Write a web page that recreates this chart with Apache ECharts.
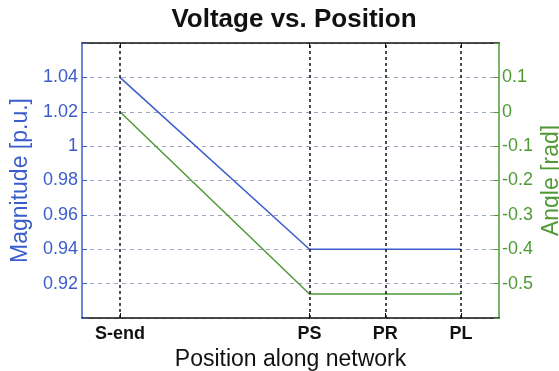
<!DOCTYPE html>
<html><head><meta charset="utf-8">
<script src="https://cdn.jsdelivr.net/npm/echarts@6/dist/echarts.min.js"></script>
<style>html,body{margin:0;padding:0;background:#fff}#c{width:559px;height:371px}</style>
</head><body><div id="c"></div>
<script>
const categories = ['S-end', 'PS', 'PR', 'PL'];
const positions = [1, 3.5, 4.5, 5.5];
const magnitude = [1.04, 0.94, 0.94, 0.94];
const angle = [0, -0.53, -0.53, -0.53];

const BLUE = '#3a5ccc';
const GREEN = '#4f9a35';
const FONT = 'Liberation Sans, Arial, sans-serif';

const chart = echarts.init(document.getElementById('c'), null, {renderer: 'canvas'});
const labelFor = v => { const i = positions.indexOf(v); return i >= 0 ? categories[i] : ''; };

chart.setOption({
  animation: false,
  backgroundColor: '#fff',
  title: {
    text: 'Voltage vs. Position', left: 289, top: 2, textAlign: 'center',
    textStyle: {fontFamily: FONT, fontSize: 26, fontWeight: 'bold', color: '#111'}
  },
  grid: {left: 82, right: 60, top: 43, bottom: 53, containLabel: false, outerBoundsMode: 'none'},
  xAxis: [{
    type: 'value', min: 0.5, max: 6, position: 'bottom',
    name: 'Position along network', nameLocation: 'middle', nameGap: 24,
    nameTextStyle: {fontFamily: FONT, fontSize: 23, color: '#111'},
    axisLine: {onZero: false, lineStyle: {color: '#111', width: 1.5}},
    axisTick: {inside: true, length: 5, customValues: positions, lineStyle: {color: '#111'}},
    axisLabel: {customValues: positions, formatter: labelFor, margin: 7,
      fontFamily: FONT, fontSize: 18, fontWeight: 'bold', color: '#111'},
    splitLine: {show: false}
  }, {
    type: 'value', min: 0.5, max: 6, position: 'top',
    axisLine: {onZero: false, lineStyle: {color: '#111', width: 1.5}},
    axisTick: {inside: true, length: 5, customValues: positions, lineStyle: {color: '#111'}},
    axisLabel: {show: false},
    splitLine: {show: false}
  }],
  yAxis: [{
    type: 'value', min: 0.9, max: 1.06, interval: 0.02, position: 'left',
    name: 'Magnitude [p.u.]', nameLocation: 'middle', nameGap: 48,
    nameTextStyle: {fontFamily: FONT, fontSize: 23, color: BLUE},
    axisLine: {show: true, onZero: false, lineStyle: {color: BLUE, width: 1.5}},
    axisTick: {show: true, inside: true, length: 5, lineStyle: {color: BLUE}},
    axisLabel: {margin: 4, fontFamily: FONT, fontSize: 18, color: BLUE,
      formatter: v => (v < 0.91 || v > 1.05) ? '' : String(+v.toFixed(2))},
    splitLine: {show: true, lineStyle: {color: '#9ea3bd', type: [4, 4], width: 1}}
  }, {
    type: 'value', min: -0.6, max: 0.2, interval: 0.1, position: 'right',
    name: 'Angle [rad]', nameLocation: 'middle', nameGap: 41, nameRotate: 90,
    nameMoveOverlap: false,
    nameTextStyle: {fontFamily: FONT, fontSize: 23, color: GREEN},
    axisLine: {show: true, onZero: false, lineStyle: {color: GREEN, width: 1.5}},
    axisTick: {show: true, inside: true, length: 5, lineStyle: {color: GREEN}},
    axisLabel: {margin: 3, fontFamily: FONT, fontSize: 18, color: GREEN,
      formatter: v => (v < -0.55 || v > 0.15) ? '' : String(+v.toFixed(1))},
    splitLine: {show: false}
  }],
  series: [{
    type: 'line', name: 'Magnitude', xAxisIndex: 0, yAxisIndex: 0,
    data: positions.map((p, i) => [p, magnitude[i]]),
    symbol: 'none', lineStyle: {color: BLUE, width: 1.5}, z: 3,
    markLine: {
      silent: true, symbol: 'none', label: {show: false},
      lineStyle: {color: '#111', type: [3, 3], width: 1.5},
      data: positions.map(p => ({xAxis: p}))
    }
  }, {
    type: 'line', name: 'Angle', xAxisIndex: 0, yAxisIndex: 1,
    data: positions.map((p, i) => [p, angle[i]]),
    symbol: 'none', lineStyle: {color: GREEN, width: 1.5}, z: 3
  }]
});
</script></body></html>
